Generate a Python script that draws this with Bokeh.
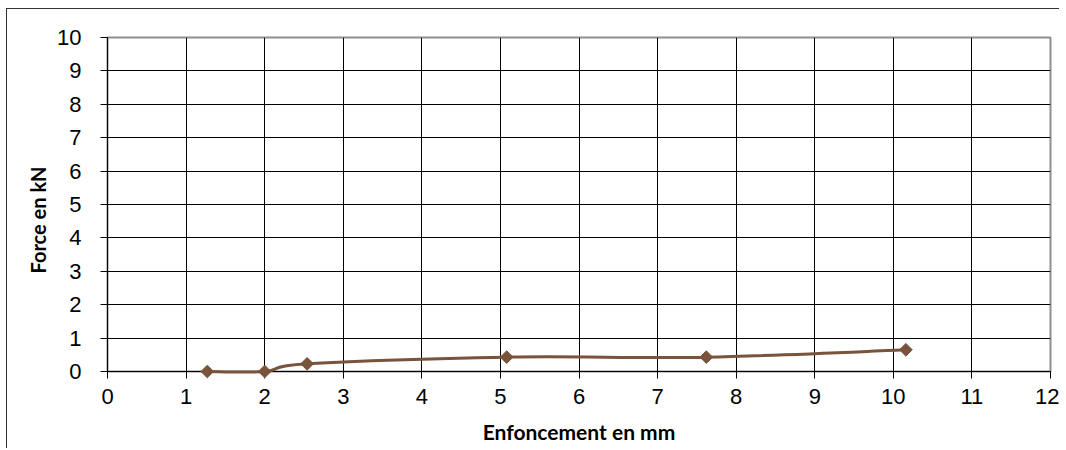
import math
from bokeh.plotting import figure
from bokeh.models import Range1d, FixedTicker, Title
from bokeh.embed import file_html
from bokeh.resources import INLINE

# Data
penetration_mm = [1.27, 2.0, 2.54, 5.08, 7.62, 10.16]
force_kN = [0.0, 0.0, 0.23, 0.43, 0.43, 0.65]
x_ticks = list(range(0, 13))
y_ticks = list(range(0, 11))
x_title = "Enfoncement en mm"
y_title = "Force en kN"

LINE_COLOR = "#79533C"

p = figure(width=1053, height=440, output_backend="svg", toolbar_location=None,
           x_range=Range1d(0, 12), y_range=Range1d(0, 10),
           min_border_left=100, min_border_right=10, min_border_top=28, min_border_bottom=78)

p.background_fill_color = "white"
p.border_fill_color = "white"
p.outline_line_color = "#8e8e8e"
p.outline_line_width = 2

for ax in (p.xaxis[0], p.yaxis[0]):
    ax.axis_line_color = "black"
    ax.axis_line_width = 1
    ax.major_tick_line_color = "black"
    ax.major_tick_in = 0
    ax.major_tick_out = 7
    ax.minor_tick_line_color = None
    ax.major_label_text_font = "Liberation Sans"
    ax.major_label_text_font_size = "22px"
    ax.major_label_text_color = "black"

p.xaxis.axis_label = x_title
p.xaxis.axis_label_text_font = "Lato"
p.xaxis.axis_label_text_font_style = "bold"
p.xaxis.axis_label_text_font_size = "21px"
p.xaxis.axis_label_text_color = "black"

p.xaxis.ticker = FixedTicker(ticks=x_ticks)
p.yaxis.ticker = FixedTicker(ticks=y_ticks)
p.xaxis.major_label_standoff = 10
p.yaxis.major_label_standoff = 19
p.xaxis.axis_label_standoff = 12

p.xgrid.ticker = FixedTicker(ticks=x_ticks)
p.ygrid.ticker = FixedTicker(ticks=y_ticks)
p.grid.grid_line_color = "black"
p.grid.grid_line_width = 1

# y title as a side title, shifted like the reference
p.add_layout(Title(text=y_title, align="left", offset=98, standoff=10,
                   text_font="Lato", text_font_style="bold", text_font_size="20px",
                   text_color="black"), "left")

# smoothed line (Catmull-Rom style Bezier through the data points)
n = len(penetration_mm)
x0, y0, x1, y1, cx0, cy0, cx1, cy1 = [], [], [], [], [], [], [], []
for i in range(n - 1):
    pm = max(i - 1, 0)
    pp = min(i + 2, n - 1)
    xa, ya = penetration_mm[i], force_kN[i]
    xb, yb = penetration_mm[i + 1], force_kN[i + 1]
    x0.append(xa); y0.append(ya); x1.append(xb); y1.append(yb)
    cx0.append(xa + (xb - penetration_mm[pm]) / 6)
    cy0.append(ya + (yb - force_kN[pm]) / 6)
    cx1.append(xb - (penetration_mm[pp] - xa) / 6)
    cy1.append(yb - (force_kN[pp] - ya) / 6)

p.bezier(x0=x0, y0=y0, x1=x1, y1=y1, cx0=cx0, cy0=cy0, cx1=cx1, cy1=cy1,
         line_color=LINE_COLOR, line_width=3, level="overlay")
p.scatter(penetration_mm, force_kN, marker="square", size=9, angle=math.pi / 4,
          fill_color=LINE_COLOR, line_color=LINE_COLOR, level="overlay")

p.styles = {"margin-left": "6px", "margin-top": "8px",
            "border-top": "1px solid #333", "border-left": "1px solid #333"}

open("out.html", "w").write(file_html(p, INLINE))
